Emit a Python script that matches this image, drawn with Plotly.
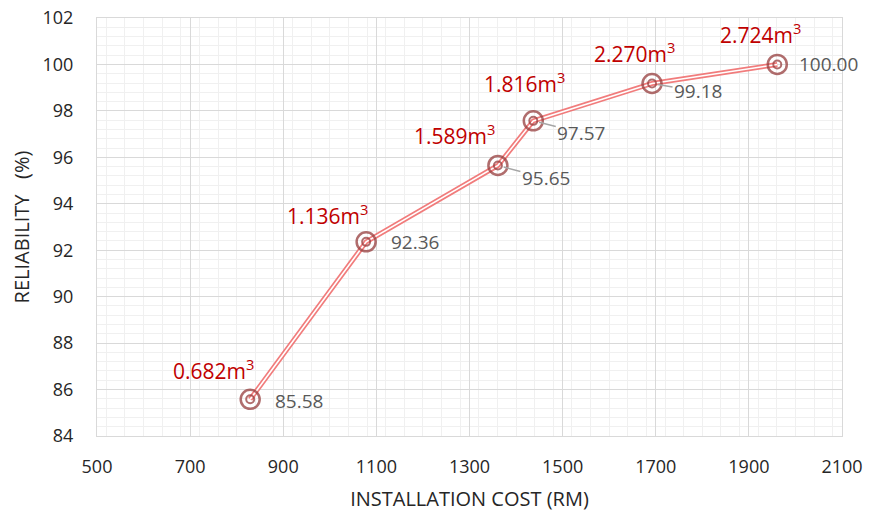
import plotly.graph_objects as go

cost = [829, 1078, 1361, 1437, 1692, 1961]
reliability = [85.58, 92.36, 95.65, 97.57, 99.18, 100.00]
volumes = ["0.682", "1.136", "1.589", "1.816", "2.270", "2.724"]
value_labels = ["85.58", "92.36", "95.65", "97.57", "99.18", "100.00"]
x_ticks = [500, 700, 900, 1100, 1300, 1500, 1700, 1900, 2100]
y_ticks = [84, 86, 88, 90, 92, 94, 96, 98, 100, 102]

FONT = "Open Sans"
MK = "rgba(150,60,60,0.75)"
fig = go.Figure()
fig.add_trace(go.Scatter(x=cost, y=reliability, mode="lines",
                         line=dict(color="rgba(240,110,110,0.9)", width=5),
                         hoverinfo="skip", showlegend=False))
fig.add_trace(go.Scatter(x=cost, y=reliability, mode="lines",
                         line=dict(color="white", width=1.6),
                         hoverinfo="skip", showlegend=False))
fig.add_trace(go.Scatter(x=cost, y=reliability, mode="markers",
                         marker=dict(symbol="circle-open", size=19, color=MK,
                                     line=dict(color=MK, width=2.5)),
                         showlegend=False))
fig.add_trace(go.Scatter(x=cost, y=reliability, mode="markers",
                         marker=dict(symbol="circle-open", size=8, color=MK,
                                     line=dict(color=MK, width=2)),
                         showlegend=False))

# red volume labels (offsets in px)
red_off = [(-37, 30), (-39, 27), (-43, 31), (-9, 38), (-18, 31), (-17, 31)]
for x, y, v, (dx, dy) in zip(cost, reliability, volumes, red_off):
    fig.add_annotation(x=x, y=y, text=f"{v}m<sup>3</sup>", showarrow=False,
                       xshift=dx, yshift=dy,
                       font=dict(family=FONT, size=21, color="#c00000"))

# gray value labels
gray_cfg = [(23, -2, False), (23, 0, False), (22, -13, True), (22, -12, True), (20, -8, True), (20, 0, False)]
for x, y, t, (dx, dy, arrow) in zip(cost, reliability, value_labels, gray_cfg):
    if arrow:
        fig.add_annotation(x=x, y=y, text=t, showarrow=True, arrowhead=0,
                           arrowcolor="#a6a6a6", arrowwidth=1.5, standoff=6,
                           ax=dx + 26, ay=-dy, xanchor="center",
                           font=dict(family=FONT, size=19, color="#595959"))
    else:
        fig.add_annotation(x=x, y=y, text=t, showarrow=False, xanchor="left",
                           xshift=dx, yshift=dy,
                           font=dict(family=FONT, size=19, color="#595959"))

fig.update_layout(
    width=877, height=516,
    margin=dict(l=89, r=43, t=10, b=88),
    paper_bgcolor="white", plot_bgcolor="white",
    font=dict(family=FONT, size=18, color="#262626"),
    xaxis=dict(range=[500, 2100], tickvals=x_ticks, ticks="", automargin=False,
               ticklabelstandoff=14, ticklabeloverflow="allow",
               showgrid=True, gridcolor="#d9d9d9", gridwidth=1,
               minor=dict(dtick=40, showgrid=True, gridcolor="#f0f0f0", gridwidth=1),
               showline=True, linecolor="#d9d9d9", mirror=True, zeroline=False,
               title=dict(text="INSTALLATION COST (RM)", font=dict(size=20), standoff=15)),
    yaxis=dict(range=[84, 102], tickvals=y_ticks, ticks="", automargin=False,
               ticklabelstandoff=19, ticklabeloverflow="allow",
               showgrid=True, gridcolor="#d9d9d9", gridwidth=1,
               minor=dict(dtick=0.4, showgrid=True, gridcolor="#f0f0f0", gridwidth=1),
               showline=True, linecolor="#d9d9d9", mirror=True, zeroline=False,
               title=dict(text="RELIABILITY&nbsp;&nbsp;&nbsp;(%)", font=dict(size=20), standoff=15)),
)
fig.write_html("out.html")
